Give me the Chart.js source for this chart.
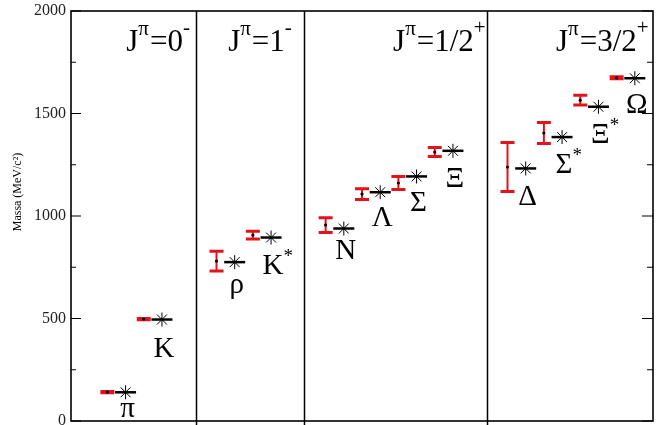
<!DOCTYPE html>
<html>
<head>
<meta charset="utf-8">
<script src="https://cdn.jsdelivr.net/npm/chart.js@4.4.0/dist/chart.umd.min.js"></script>
<style>
  html, body { margin: 0; padding: 0; background: #fff; overflow: hidden; }
  #wrap { width: 656px; height: 425px; }
</style>
</head>
<body>
<div id="wrap"><canvas id="massChart" width="656" height="425"></canvas></div>
<script>
// Hadron masses: lattice values (red error bars) vs experiment (black stars)
const particles   = ['π', 'K', 'ρ', 'K', 'N', 'Λ', 'Σ', 'Ξ', 'Δ', 'Σ', 'Ξ', 'Ω'];
const starred     = [false, false, false, true, false, false, false, false, false, true, true, false];
const positions   = [1, 2, 4, 5, 7, 8, 9, 10, 12, 13, 14, 15];
const latticeMass = [141, 497, 780, 907, 956, 1107, 1161, 1312, 1239, 1405, 1565, 1674];
const latticeErr  = [3, 3, 48, 19, 36, 26, 32, 22, 120, 51, 24, 5];
const expMass     = [140, 495, 775, 895, 939, 1116, 1193, 1318, 1232, 1385, 1533, 1672];
const yTicks      = [0, 500, 1000, 1500, 2000];

// section boundaries and headers (J^π)
const sectionEdges = [3.45, 6.4, 11.45];
const headers = [
  { x: 3.27,  j: '0',   p: '-' },
  { x: 6.07,  j: '1',   p: '-' },
  { x: 11.4,  j: '1/2', p: '+' },
  { x: 15.88, j: '3/2', p: '+' }
];

const RED = '#e3131b';
const SERIF = '"Liberation Serif", "DejaVu Serif", serif';
const labelDy = [25, 37, 31, 36, 30, 34, 35, 36, 37, 36, 36, 35];

const xOf = (arr) => arr.map((v, i) => ({ x: positions[i], y: v }));
const expPoints = expMass.map((v, i) => ({ x: positions[i] + 0.5, y: v }));

// draws text pieces left to right, pieces can be raised (superscripts)
function drawPieces(ctx, pieces, right, baseline) {
  let total = 0;
  pieces.forEach(p => {
    ctx.font = p.size + 'px ' + SERIF;
    p.w = ctx.measureText(p.t).width + (p.gap || 0);
    total += p.w;
  });
  let x = right - total;
  pieces.forEach(p => {
    ctx.font = p.size + 'px ' + SERIF;
    ctx.fillText(p.t, x, baseline - (p.up || 0));
    x += p.w;
  });
  return total;
}

const decorations = {
  id: 'decorations',
  beforeDatasetsDraw(chart) {
    const { ctx, chartArea: a, scales: { x, y } } = chart;
    ctx.save();

    // section dividers
    ctx.strokeStyle = '#000';
    ctx.lineWidth = 1.5;
    sectionEdges.forEach(e => {
      const px = Math.round(x.getPixelForValue(e)) + 0.5;
      ctx.beginPath();
      ctx.moveTo(px, a.top);
      ctx.lineTo(px, a.bottom + 4);
      ctx.stroke();
    });

    // frame
    ctx.lineWidth = 1.6;
    ctx.strokeRect(a.left, a.top, a.right - a.left, a.bottom - a.top);

    // inward ticks, major + minor, both sides
    ctx.lineWidth = 1.2;
    yTicks.forEach((t, i) => {
      const py = y.getPixelForValue(t);
      ctx.beginPath();
      ctx.moveTo(a.left, py); ctx.lineTo(a.left + 10, py);
      ctx.moveTo(a.right, py); ctx.lineTo(a.right - 11, py);
      ctx.stroke();
      if (i < yTicks.length - 1) {
        const pm = y.getPixelForValue((t + yTicks[i + 1]) / 2);
        ctx.beginPath();
        ctx.moveTo(a.left, pm); ctx.lineTo(a.left + 5, pm);
        ctx.moveTo(a.right, pm); ctx.lineTo(a.right - 6, pm);
        ctx.stroke();
      }
    });

    // lattice error bars
    ctx.strokeStyle = RED;
    latticeMass.forEach((m, i) => {
      const px = x.getPixelForValue(positions[i]);
      const lo = y.getPixelForValue(m - latticeErr[i]);
      const hi = y.getPixelForValue(m + latticeErr[i]);
      ctx.lineWidth = 2;
      ctx.beginPath();
      ctx.moveTo(px, lo); ctx.lineTo(px, hi);
      ctx.stroke();
      ctx.lineWidth = 3;
      ctx.beginPath();
      ctx.moveTo(px - 7, lo); ctx.lineTo(px + 7, lo);
      ctx.moveTo(px - 7, hi); ctx.lineTo(px + 7, hi);
      ctx.stroke();
    });

    // particle names under the experimental marks
    ctx.fillStyle = '#000';
    ctx.textBaseline = 'alphabetic';
    ctx.textAlign = 'left';
    particles.forEach((name, i) => {
      const px = x.getPixelForValue(positions[i] + 0.5) + 2;
      const py = y.getPixelForValue(expMass[i]) + labelDy[i];
      const pieces = [{ t: name, size: 29 }];
      if (starred[i]) pieces.push({ t: '*', size: 19, up: 12 });
      ctx.font = '29px ' + SERIF;
      const w0 = ctx.measureText(name).width;
      let w = w0;
      if (starred[i]) { ctx.font = '19px ' + SERIF; w += ctx.measureText('*').width; }
      drawPieces(ctx, pieces, px - w0 / 2 + w, py);
    });

    // J^π headers
    headers.forEach(h => {
      drawPieces(ctx, [
        { t: 'J', size: 31 },
        { t: 'π', size: 21, up: 16, gap: 1 },
        { t: '=' + h.j, size: 31 },
        { t: h.p, size: 21, up: 17 }
      ], x.getPixelForValue(h.x), 51);
    });

    // rotated axis title
    ctx.save();
    ctx.translate(21, y.getPixelForValue(1000) - 24);
    ctx.rotate(-Math.PI / 2);
    ctx.font = '12px ' + SERIF;
    ctx.textAlign = 'center';
    ctx.fillText('Massa (MeV/c²)', 0, 0);
    ctx.restore();

    ctx.restore();
  }
};

const ctx = document.getElementById('massChart').getContext('2d');
const chart = new Chart(ctx, {
  type: 'scatter',
  data: {
    datasets: [
      {
        label: 'Lattice',
        data: xOf(latticeMass),
        pointStyle: 'circle',
        pointRadius: 1.6,
        backgroundColor: '#000',
        borderColor: '#000',
        borderWidth: 0
      },
      {
        label: 'Exp (segment)',
        data: expPoints,
        pointStyle: 'line',
        pointRadius: 10.5,
        borderColor: '#000',
        borderWidth: 2.5
      },
      {
        label: 'Exp',
        data: expPoints,
        pointStyle: 'star',
        pointRadius: 7,
        borderColor: '#000',
        borderWidth: 1
      }
    ]
  },
  options: {
    responsive: false,
    animation: false,
    layout: { autoPadding: false, padding: { top: 11, bottom: 4, left: 0, right: 3 } },
    plugins: { legend: { display: false }, tooltip: { enabled: false } },
    scales: {
      x: { type: 'linear', min: 0, max: 16, display: false },
      y: {
        min: 0,
        max: 2000,
        afterBuildTicks(scale) { scale.ticks = yTicks.map(v => ({ value: v })); },
        afterFit(scale) {
          scale.width = 71;
          scale.paddingTop = 0;
          scale.paddingBottom = 0;
        },
        ticks: {
          color: '#222',
          padding: 5,
          font: { family: SERIF, size: 16 },
          callback: (v) => String(v)
        },
        grid: { display: false, drawTicks: false },
        border: { display: false }
      }
    }
  },
  plugins: [decorations]
});
</script>
</body>
</html>
